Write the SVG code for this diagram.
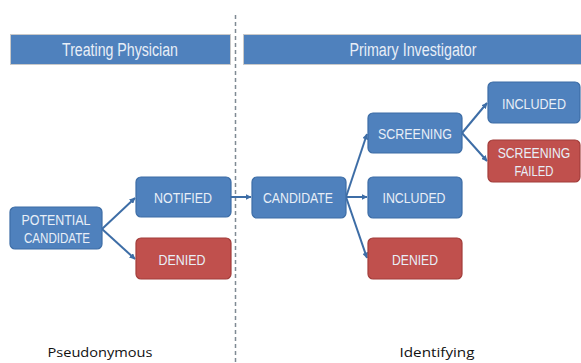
<svg xmlns="http://www.w3.org/2000/svg" width="581" height="363" viewBox="0 0 581 363">
<style>
.hdr{fill:#4f81bd;stroke:#c9c9c9;stroke-width:1}
.b{fill:#4f81bd;stroke:#3d6da6;stroke-width:1.2}
.r{fill:#c0504d;stroke:#a23d3a;stroke-width:1.2}
.t{font-family:"Liberation Sans",Arial,sans-serif;font-size:15.5px;fill:#e8eef7;text-anchor:middle}
.ht{font-family:"Liberation Sans",Arial,sans-serif;font-size:18px;fill:#e8eef7;text-anchor:middle}
.lbl{font-family:"Open Sans","Liberation Sans",sans-serif;font-size:13.5px;fill:#111;text-anchor:middle}
.c{stroke:#3d6da6;stroke-width:2;fill:none;marker-end:url(#ah)}
</style>
<defs>
<marker id="ah" viewBox="0 0 10 10" refX="9" refY="5" markerWidth="3" markerHeight="3" orient="auto">
<path d="M0,0 L10,5 L0,10 z" fill="#3d6da6"/>
</marker>
</defs>
<rect width="581" height="363" fill="#ffffff"/>
<line x1="235.5" y1="15" x2="235.5" y2="363" stroke="#7f8a94" stroke-width="1.5" stroke-dasharray="4,3"/>
<g id="hdr-left">
<rect class="hdr" x="10.5" y="34.5" width="220" height="30"/>
<text class="ht" x="120" y="56" textLength="116" lengthAdjust="spacingAndGlyphs">Treating Physician</text>
</g>
<g id="hdr-right">
<rect class="hdr" x="243.5" y="34.5" width="340" height="30"/>
<text class="ht" x="413" y="56" textLength="127" lengthAdjust="spacingAndGlyphs">Primary Investigator</text>
</g>
<g id="connectors">
<path class="c" d="M102,229 L135,198"/>
<path class="c" d="M102,229 L135,259"/>
<path class="c" d="M231,197 L251,197"/>
<path class="c" d="M346,197 L367,134"/>
<path class="c" d="M346,197 L367,197"/>
<path class="c" d="M346,197 L367,258"/>
<path class="c" d="M462,133 L487,103"/>
<path class="c" d="M462,133 L487,161"/>
</g>
<g id="potential">
<rect class="b" x="10" y="207" width="92" height="42" rx="5"/>
<text class="t" x="56" y="225" textLength="69" lengthAdjust="spacingAndGlyphs">POTENTIAL</text>
<text class="t" x="57" y="243" textLength="66" lengthAdjust="spacingAndGlyphs">CANDIDATE</text>
</g>
<g id="notified">
<rect class="b" x="136" y="177" width="95" height="40" rx="5"/>
<text class="t" x="183" y="203" textLength="58" lengthAdjust="spacingAndGlyphs">NOTIFIED</text>
</g>
<g id="denied-left">
<rect class="r" x="136" y="238" width="95" height="41" rx="5"/>
<text class="t" x="182" y="265" textLength="47" lengthAdjust="spacingAndGlyphs">DENIED</text>
</g>
<g id="candidate">
<rect class="b" x="252" y="177" width="94" height="41" rx="5"/>
<text class="t" x="298" y="203" textLength="70" lengthAdjust="spacingAndGlyphs">CANDIDATE</text>
</g>
<g id="screening">
<rect class="b" x="368" y="113" width="94" height="40" rx="5"/>
<text class="t" x="415" y="139" textLength="74" lengthAdjust="spacingAndGlyphs">SCREENING</text>
</g>
<g id="included-mid">
<rect class="b" x="368" y="177" width="94" height="41" rx="5"/>
<text class="t" x="414" y="203" textLength="63" lengthAdjust="spacingAndGlyphs">INCLUDED</text>
</g>
<g id="denied-right">
<rect class="r" x="368" y="238" width="94" height="41" rx="5"/>
<text class="t" x="415" y="265" textLength="46" lengthAdjust="spacingAndGlyphs">DENIED</text>
</g>
<g id="included-top">
<rect class="b" x="488" y="82" width="92" height="41" rx="5"/>
<text class="t" x="534" y="109" textLength="64" lengthAdjust="spacingAndGlyphs">INCLUDED</text>
</g>
<g id="screening-failed">
<rect class="r" x="488" y="140" width="92" height="42" rx="5"/>
<text class="t" transform="translate(534,158) scale(0.79,1)" x="0" y="0">SCREENING</text>
<text class="t" x="534" y="176" textLength="39" lengthAdjust="spacingAndGlyphs">FAILED</text>
</g>
<g id="labels">
<text class="lbl" x="100" y="357" textLength="105" lengthAdjust="spacingAndGlyphs">Pseudonymous</text>
<text class="lbl" x="437" y="357" textLength="75" lengthAdjust="spacingAndGlyphs">Identifying</text>
</g>
</svg>
